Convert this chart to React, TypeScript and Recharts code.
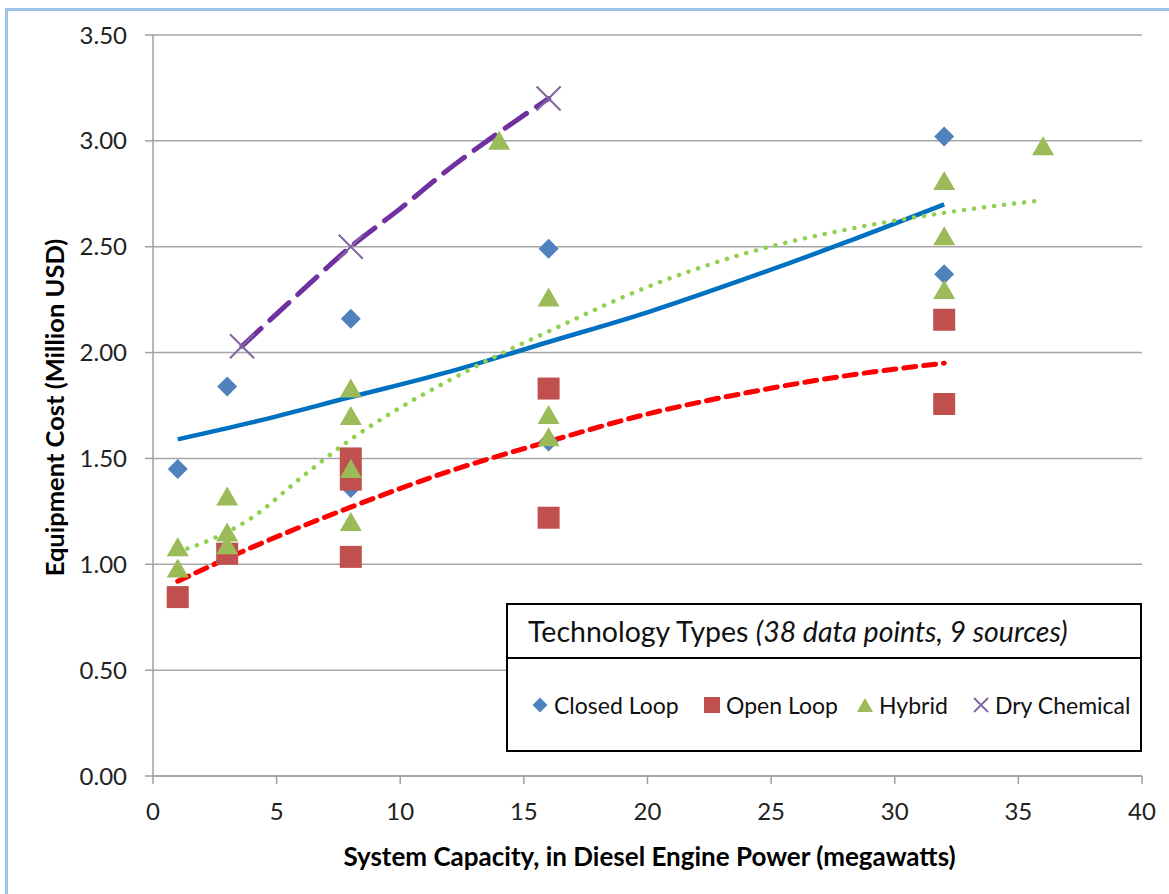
import { ComposedChart, Scatter, Line, XAxis, YAxis, CartesianGrid } from 'recharts'

// Data points (x = MW, y = million USD)
const closedX = [1, 3, 8, 8, 16, 16, 32, 32]
const closedY = [1.45, 1.84, 2.16, 1.36, 2.49, 1.58, 3.02, 2.37]

const openX = [1, 3, 8, 8, 8, 16, 16, 32, 32]
const openY = [0.845, 1.05, 1.5, 1.4, 1.035, 1.83, 1.22, 2.155, 1.757]

const hybridX = [1, 1, 3, 3, 3, 8, 8, 8, 8, 14, 16, 16, 16, 32, 32, 32, 36]
const hybridY = [1.08, 0.98, 1.32, 1.15, 1.09, 1.83, 1.7, 1.45, 1.2, 3.0, 2.26, 1.705, 1.6, 2.81, 2.55, 2.295, 2.975]

const dryX = [3.6, 8, 16]
const dryY = [2.03, 2.5, 3.2]

// Trendlines at a few x positions
const closedTrendX = [1, 4, 8, 12, 16, 20, 24, 28, 32]
const closedTrendY = [1.59, 1.67, 1.79, 1.91, 2.05, 2.19, 2.35, 2.52, 2.7]

const openTrendX = [1, 4, 8, 12, 16, 20, 24, 28, 32]
const openTrendY = [0.92, 1.08, 1.27, 1.44, 1.58, 1.71, 1.81, 1.89, 1.95]

const hybridTrendX = [1, 2, 4, 6, 8, 10, 12, 14, 16, 20, 24, 28, 32, 36]
const hybridTrendY = [1.06, 1.1, 1.22, 1.41, 1.59, 1.74, 1.87, 1.99, 2.1, 2.31, 2.47, 2.58, 2.66, 2.72]

const dryTrendX = [3.6, 6, 8, 10, 12, 14, 16]
const dryTrendY = [2.03, 2.29, 2.5, 2.68, 2.87, 3.04, 3.2]

const xTicks = [0, 5, 10, 15, 20, 25, 30, 35, 40]
const yTicks = [0, 0.5, 1, 1.5, 2, 2.5, 3, 3.5]

const toPoints = (xs: number[], ys: number[]) => xs.map((x, i) => ({ x, y: ys[i] }))

const FONT = 'Lato, "Open Sans", sans-serif'

const Diamond = (p: any) => {
  const r = 10
  return <path d={`M${p.cx},${p.cy - r}L${p.cx + r},${p.cy}L${p.cx},${p.cy + r}L${p.cx - r},${p.cy}Z`} fill="#4F81BD" />
}
const Square = (p: any) => <rect x={p.cx - 11} y={p.cy - 11} width={22} height={22} fill="#C0504D" />
const Triangle = (p: any) => (
  <path d={`M${p.cx},${p.cy - 10}L${p.cx + 11},${p.cy + 9}L${p.cx - 11},${p.cy + 9}Z`} fill="#9BBB59" />
)
const Cross = (p: any) => (
  <path
    d={`M${p.cx - 12},${p.cy - 12}L${p.cx + 12},${p.cy + 12}M${p.cx + 12},${p.cy - 12}L${p.cx - 12},${p.cy + 12}`}
    stroke="#8064A2"
    strokeWidth={2}
  />
)

const XTitle = (props: any) => {
  const vb = props.viewBox
  return (
    <text x={vb.x + vb.width / 2 + 2} y={vb.y + 90} textAnchor="middle" fontFamily={FONT} fontWeight={700} fontSize={26} fill="#000">
      System Capacity, in Diesel Engine Power (megawatts)
    </text>
  )
}

const YTitle = (props: any) => {
  const vb = props.viewBox
  const cx = 64
  const cy = vb.y + vb.height / 2 + 2
  return (
    <text x={cx} y={cy} transform={`rotate(-90 ${cx} ${cy})`} textAnchor="middle" fontFamily={FONT} fontWeight={700} fontSize={25.5} fill="#000">
      Equipment Cost (Million USD)
    </text>
  )
}

const legendItems = [
  { name: 'Closed Loop', left: 24, icon: <path d="M8,0.5L15.5,8L8,15.5L0.5,8Z" fill="#4F81BD" /> },
  { name: 'Open Loop', left: 196, icon: <rect x={0} y={0} width={16} height={16} fill="#C0504D" /> },
  { name: 'Hybrid', left: 349, icon: <path d="M8,1L16,15L0,15Z" fill="#9BBB59" /> },
  { name: 'Dry Chemical', left: 465, icon: <path d="M1,1L15,15M15,1L1,15" stroke="#8064A2" strokeWidth={1.8} /> },
]

export default function App() {
  return (
    <div style={{ position: 'absolute', left: 0, top: 0, width: 1169, height: 894, overflow: 'hidden', background: '#fff' }}>
      <div style={{ position: 'absolute', left: 5, top: 8, width: 1300, height: 1000, border: '3px solid #9DC3E6' }} />
      <div style={{ position: 'absolute', left: 0, top: 0 }}>
        <ComposedChart width={1169} height={894} margin={{ top: 35, right: 27, bottom: 0, left: 0 }}>
          <CartesianGrid vertical={false} stroke="#A6A6A6" strokeWidth={1.5} />
          <XAxis
            type="number"
            dataKey="x"
            domain={[0, 40]}
            ticks={xTicks}
            allowDataOverflow
            height={118}
            tickSize={8}
            tickMargin={19}
            stroke="#A0A0A0"
            strokeWidth={1.5}
            tick={{ fill: '#222', fontSize: 24, fontFamily: FONT }}
            label={<XTitle />}
          />
          <YAxis
            type="number"
            dataKey="y"
            domain={[0, 3.5]}
            ticks={yTicks}
            allowDataOverflow
            width={153}
            tickSize={8}
            tickMargin={18}
            stroke="#A0A0A0"
            strokeWidth={1.5}
            tickFormatter={(v: number) => v.toFixed(2)}
            tick={{ fill: '#222', fontSize: 24, fontFamily: FONT }}
            label={<YTitle />}
          />
          <Scatter name="Closed Loop" data={toPoints(closedX, closedY)} dataKey="y" shape={Diamond} isAnimationActive={false} />
          <Scatter name="Open Loop" data={toPoints(openX, openY)} dataKey="y" shape={Square} isAnimationActive={false} />
          <Scatter name="Hybrid" data={toPoints(hybridX, hybridY)} dataKey="y" shape={Triangle} isAnimationActive={false} />
          <Scatter name="Dry Chemical" data={toPoints(dryX, dryY)} dataKey="y" shape={Cross} isAnimationActive={false} />
          <Line
            data={toPoints(closedTrendX, closedTrendY)}
            dataKey="y"
            type="monotone"
            stroke="#0070C0"
            strokeWidth={4.5}
            dot={false}
            activeDot={false}
            isAnimationActive={false}
          />
          <Line
            data={toPoints(openTrendX, openTrendY)}
            dataKey="y"
            type="monotone"
            stroke="#FF0000"
            strokeWidth={5}
            strokeDasharray="12 8"
            strokeLinecap="round"
            dot={false}
            activeDot={false}
            isAnimationActive={false}
          />
          <Line
            data={toPoints(hybridTrendX, hybridTrendY)}
            dataKey="y"
            type="monotone"
            stroke="#92D050"
            strokeWidth={4.5}
            strokeDasharray="0.1 10"
            strokeLinecap="round"
            dot={false}
            activeDot={false}
            isAnimationActive={false}
          />
          <Line
            data={toPoints(dryTrendX, dryTrendY)}
            dataKey="y"
            type="monotone"
            stroke="#7030A0"
            strokeWidth={5}
            strokeDasharray="26 12"
            strokeLinecap="round"
            dot={false}
            activeDot={false}
            isAnimationActive={false}
          />
        </ComposedChart>
      </div>
      <div
        style={{
          position: 'absolute',
          left: 506,
          top: 603,
          width: 636,
          height: 149,
          border: '2px solid #000',
          boxSizing: 'border-box',
          background: '#fff',
          fontFamily: FONT,
          color: '#111',
        }}
      >
        <div style={{ height: 52, borderBottom: '2px solid #000', display: 'flex', alignItems: 'center', paddingLeft: 20, fontSize: 28.5, whiteSpace: 'nowrap' }}>
          Technology Types&nbsp;<i>(38 data points, 9 sources)</i>
        </div>
        {legendItems.map((it) => (
          <div
            key={it.name}
            style={{ position: 'absolute', left: it.left, top: 86, display: 'flex', alignItems: 'center', fontSize: 23, whiteSpace: 'nowrap' }}
          >
            <svg width={16} height={16} style={{ marginRight: 6 }}>
              {it.icon}
            </svg>
            <span>{it.name}</span>
          </div>
        ))}
      </div>
    </div>
  )
}
